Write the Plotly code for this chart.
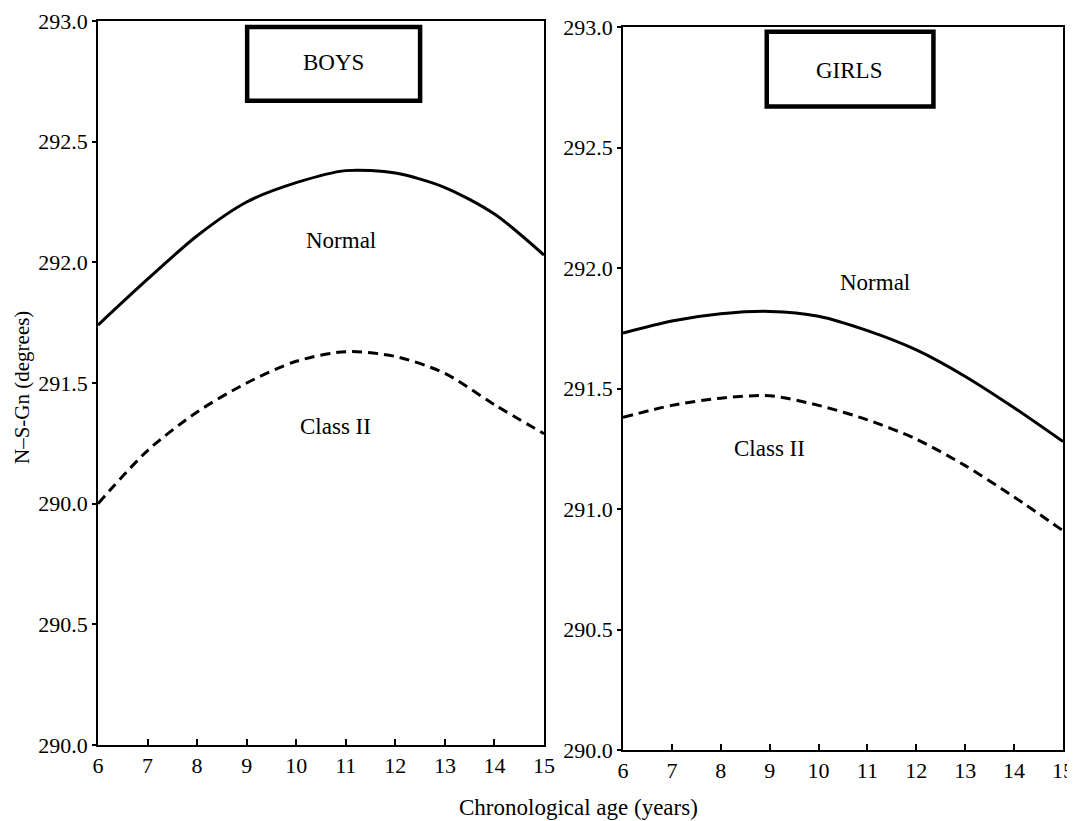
import plotly.graph_objects as go

# ---- data ----
ages = [6, 7, 8, 9, 10, 11, 12, 13, 14, 15]
boys_normal = [291.74, 291.93, 292.11, 292.25, 292.33, 292.38, 292.37, 292.31, 292.20, 292.03]
boys_class2 = [291.00, 291.22, 291.38, 291.50, 291.59, 291.63, 291.61, 291.54, 291.41, 291.29]
girls_normal = [291.73, 291.78, 291.81, 291.82, 291.80, 291.74, 291.66, 291.55, 291.42, 291.28]
girls_class2 = [291.38, 291.43, 291.46, 291.47, 291.43, 291.37, 291.29, 291.18, 291.05, 290.91]

x_ticks = [6, 7, 8, 9, 10, 11, 12, 13, 14, 15]
y_ticks = [290.0, 290.5, 291.0, 291.5, 292.0, 292.5, 293.0]
boys_y_labels = ["290.0", "290.5", "290.0", "291.5", "292.0", "292.5", "293.0"]
girls_y_labels = ["290.0", "290.5", "291.0", "291.5", "292.0", "292.5", "293.0"]

panel_titles = ["BOYS", "GIRLS"]
series_labels = ["Normal", "Class II"]
x_title = "Chronological age (years)"
y_title = "N\u2013S-Gn (degrees)"

# the page body has an 8px margin, so the figure is offset by 8px
OFF = 8
W, H = 1075 - OFF, 821 - OFF
FONT = "Liberation Serif, Times New Roman, serif"

def px(xp):
    return (xp - OFF) / W

def py(yp):
    return 1 - (yp - OFF) / H

fig = go.Figure()

solid = dict(color="black", width=3, shape="spline", smoothing=0.8)
dashed = dict(color="black", width=3, shape="spline", smoothing=0.8, dash="10px,6px")

fig.add_trace(go.Scatter(x=ages, y=boys_normal, mode="lines", line=solid, xaxis="x", yaxis="y", showlegend=False))
fig.add_trace(go.Scatter(x=ages, y=boys_class2, mode="lines", line=dashed, xaxis="x", yaxis="y", showlegend=False))
fig.add_trace(go.Scatter(x=ages, y=girls_normal, mode="lines", line=solid, xaxis="x2", yaxis="y2", showlegend=False))
fig.add_trace(go.Scatter(x=ages, y=girls_class2, mode="lines", line=dashed, xaxis="x2", yaxis="y2", showlegend=False))

def xaxis(domain, anchor):
    return dict(domain=domain, anchor=anchor, range=[6, 15], tickvals=x_ticks,
                ticks="inside", ticklen=6, tickwidth=1.5, tickcolor="black",
                showline=True, linecolor="black", linewidth=1.5, mirror=True,
                showgrid=False, zeroline=False, ticklabelstandoff=0, automargin=False,
                ticklabeloverflow="allow",
                tickfont=dict(family=FONT, size=22, color="black"))

def yaxis(domain, anchor, labels):
    return dict(domain=domain, anchor=anchor, range=[290, 293], tickvals=y_ticks, ticktext=labels,
                ticks="outside", ticklen=4, tickwidth=1.5, tickcolor="black",
                showline=True, linecolor="black", linewidth=1.5, mirror=True,
                showgrid=False, zeroline=False, automargin=False,
                tickfont=dict(family=FONT, size=22, color="black"))

fig.update_layout(
    template="none",
    width=W, height=H,
    margin=dict(l=0, r=0, t=0, b=0, pad=0),
    paper_bgcolor="white", plot_bgcolor="white",
    font=dict(family=FONT, color="black"),
    showlegend=False,
    xaxis=xaxis([px(98), px(544)], "y"),
    yaxis=yaxis([py(745), py(21)], "x", boys_y_labels),
    xaxis2=xaxis([px(623), px(1063)], "y2"),
    yaxis2=yaxis([py(750), py(27)], "x2", girls_y_labels),
)

# title boxes
fig.add_shape(type="rect", xref="x", yref="y", x0=9.01, x1=12.50, y0=292.67, y1=292.975,
              line=dict(color="black", width=4.5), fillcolor="white")
fig.add_shape(type="rect", xref="x2", yref="y2", x0=8.94, x1=12.35, y0=292.67, y1=292.98,
              line=dict(color="black", width=4.5), fillcolor="white")

ann_font = dict(family=FONT, size=23, color="black")
def note(x, y, xr, yr, text):
    fig.add_annotation(x=x, y=y, xref=xr, yref=yr, text=text, showarrow=False, font=ann_font,
                       xanchor="center", yanchor="middle")

note(10.75, 292.83, "x", "y", panel_titles[0])
note(10.62, 292.82, "x2", "y2", panel_titles[1])
note(10.9, 292.09, "x", "y", series_labels[0])
note(10.8, 291.32, "x", "y", series_labels[1])
note(11.15, 291.94, "x2", "y2", series_labels[0])
note(9.0, 291.25, "x2", "y2", series_labels[1])

fig.add_annotation(x=px(578), y=py(807), xref="paper", yref="paper", text=x_title, showarrow=False,
                   xanchor="center", yanchor="middle", font=dict(family=FONT, size=23, color="black"))
fig.add_annotation(x=px(22), y=py(388), xref="paper", yref="paper", text=y_title, showarrow=False,
                   xanchor="center", yanchor="middle", textangle=-90,
                   font=dict(family=FONT, size=21, color="black"))

fig.write_html("out.html")
